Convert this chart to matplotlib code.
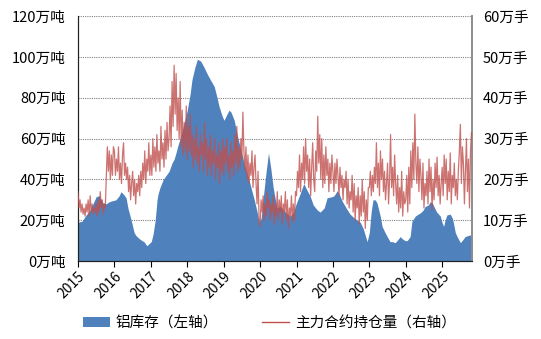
import matplotlib
matplotlib.use("Agg")
import matplotlib.pyplot as plt
import numpy as np
from matplotlib.patches import Patch
from matplotlib.lines import Line2D

plt.rcParams['font.family'] = ['Noto Sans CJK SC', 'DejaVu Sans']

# ---- data ----
years = list(range(2015, 2026))
year_labels = [str(y) for y in years]

# aluminium inventory (万吨), time as decimal year
inv_t = [2015.00, 2015.11, 2015.22, 2015.33, 2015.41, 2015.50, 2015.58, 2015.68, 2015.77, 2015.85,
         2015.93, 2016.04, 2016.13, 2016.18, 2016.26, 2016.32, 2016.37, 2016.46, 2016.54, 2016.59,
         2016.68, 2016.76, 2016.81, 2016.89, 2016.95, 2017.01, 2017.06, 2017.12, 2017.17, 2017.20,
         2017.25, 2017.34, 2017.42, 2017.50, 2017.58, 2017.64, 2017.69, 2017.75, 2017.82, 2017.91,
         2018.00, 2018.08, 2018.13, 2018.21, 2018.28, 2018.32, 2018.37, 2018.46, 2018.54, 2018.63,
         2018.74, 2018.82, 2018.87, 2018.96, 2019.01, 2019.09, 2019.15, 2019.20, 2019.29, 2019.37,
         2019.47, 2019.56, 2019.65, 2019.75, 2019.84, 2019.92, 2019.97, 2020.03, 2020.08, 2020.16,
         2020.23, 2020.29, 2020.36, 2020.46, 2020.55, 2020.69, 2020.82, 2020.91, 2020.99, 2021.10,
         2021.20, 2021.28, 2021.37, 2021.46, 2021.57, 2021.65, 2021.76, 2021.84, 2021.97, 2022.03,
         2022.12, 2022.17, 2022.25, 2022.38, 2022.47, 2022.56, 2022.67, 2022.75, 2022.83, 2022.89,
         2022.94, 2023.00, 2023.05, 2023.10, 2023.16, 2023.21, 2023.30, 2023.35, 2023.43, 2023.49,
         2023.57, 2023.63, 2023.71, 2023.76, 2023.85, 2023.90, 2023.98, 2024.04, 2024.12, 2024.17,
         2024.26, 2024.34, 2024.40, 2024.48, 2024.53, 2024.62, 2024.67, 2024.73, 2024.78, 2024.85,
         2024.95, 2025.00, 2025.04, 2025.08, 2025.13, 2025.22, 2025.28, 2025.31, 2025.36, 2025.41,
         2025.50, 2025.59, 2025.63, 2025.71, 2025.77, 2025.82]
inv_v = [19, 19.5, 22.5, 25, 28, 31.6, 32, 28.5, 28, 29,
         29.5, 30, 32, 34, 32.5, 31, 26, 20, 14, 12.5,
         11, 10, 9.5, 7.5, 8.5, 9.5, 13, 20, 30, 33,
         36, 40, 42, 44, 48, 50, 53, 57, 61, 67,
         74, 82, 89, 95, 99, 98.5, 98, 95, 92, 89,
         85.6, 80, 76, 71, 69, 72, 74, 73, 69, 62,
         54.5, 48, 43, 36, 30, 24, 19, 21, 30, 43,
         53, 46, 36, 26, 27, 24, 22, 23.6, 28, 33,
         38, 35, 32, 27.5, 25, 24, 26, 31, 31.5, 32,
         34.5, 33, 29.5, 25.5, 23, 21.5, 20, 19, 16, 12.5,
         9.5, 14, 24, 30, 30, 28.5, 22, 17, 14, 12,
         9.5, 9.5, 9, 10, 12, 11, 10, 10, 12, 19.5,
         22, 23, 23.6, 25, 26.7, 27.5, 29, 28.5, 26.5, 24,
         22, 18.7, 17, 20, 22.6, 23, 21, 18.7, 14, 12,
         9, 11, 12, 12.5, 12.8, 11.5]

# main contract open interest (万手), three readings per month from Jan 2015
oi_2015 = [17, 13, 15, 12, 14, 11.5, 13, 11, 14, 12, 15, 11, 16, 12, 14, 11.5, 13, 12,
           14, 11, 15, 12, 17, 13, 15, 11.5, 14, 13, 21, 28, 22, 27, 20, 26, 21, 28]
oi_2016 = [27, 21, 25, 22, 28, 20, 24, 19, 26, 29, 21, 24, 20, 23, 17, 21, 15, 19,
           22, 16, 20, 14, 19, 17, 21, 16, 22, 18, 24, 20, 27, 19, 25, 22, 29, 21]
oi_2017 = [26, 21, 30, 23, 28, 22, 31, 24, 27, 22, 33, 25, 29, 23, 32, 25, 34, 27,
           30, 38, 28, 44, 33, 48, 36, 46, 32, 40, 30, 44, 28, 37, 26, 34, 27, 38]
oi_2018 = [25, 33, 27, 36, 26, 31, 23, 30, 25, 33, 24, 28, 22, 31, 26, 29, 22, 34,
           25, 30, 21, 28, 23, 31, 21, 27, 24, 30, 20, 26, 23, 29, 19, 27, 22, 30]
oi_2019 = [21, 28, 24, 30, 22, 26, 20, 29, 23, 27, 21, 31, 24, 33, 22, 28, 23, 30,
           25, 36.5, 27, 22, 28, 20, 26, 19, 24, 21, 27, 18, 23, 26, 19, 14, 22, 10]
oi_2020 = [8.5, 15, 12, 16, 10, 14, 11, 17, 13, 15, 10, 14, 12, 16, 9, 14, 11, 17,
           10, 15, 12, 16, 9, 14, 12, 17, 10, 15, 8, 13, 11, 16, 9.5, 14, 10, 17]
oi_2021 = [16, 22, 18, 26, 17, 24, 20, 28, 19, 30, 22, 26, 18, 25, 16, 23, 29, 20,
           17, 27, 22, 35.5, 24, 31, 20, 30, 18, 26, 19, 28, 21, 25, 17, 24, 19, 26]
oi_2022 = [22, 17, 24, 19, 25, 21, 16, 23, 18, 21, 15, 20, 18, 22, 14, 20, 13, 17,
           15, 21, 12, 19, 10, 16, 13, 18, 9, 16, 11, 20, 12, 17, 8, 15, 10, 18]
oi_2023 = [18, 22, 16, 21, 17, 23, 19, 29, 18, 24, 16, 27, 20, 25, 17, 22, 15, 19,
           24, 14, 20, 31, 18, 23, 16, 26, 19, 14, 21, 12, 18, 13, 22, 11, 17, 14]
oi_2024 = [15, 21, 12, 23, 14, 27, 18, 29, 20, 36, 24, 19, 28, 17, 25, 21, 15, 24,
           13, 19, 16, 22, 14, 25, 17, 23, 12.5, 20, 15, 24, 18, 25.5, 16, 21, 14, 19]
oi_2025 = [23, 16, 26, 19, 25, 15, 22, 17, 26.5, 14, 21, 18, 24, 16, 20, 15, 22, 27,
           33.5, 19, 28, 24, 14, 22, 30, 17, 25, 13, 27, 31.5]

oi_years = [oi_2015, oi_2016, oi_2017, oi_2018, oi_2019, oi_2020,
            oi_2021, oi_2022, oi_2023, oi_2024, oi_2025]

left_ticks = [0, 20, 40, 60, 80, 100, 120]
right_ticks = [0, 10, 20, 30, 40, 50, 60]
label_inv = '铝库存（左轴）'
label_oi = '主力合约持仓量（右轴）'

# ---- build series ----
oi_t, oi_v = [], []
for y, vals in zip(years, oi_years):
    for i, v in enumerate(vals):
        oi_t.append(y + (i // 3) / 12 + (i % 3) / 36)
        oi_v.append(v)

BLUE = '#4F81BD'
RED = '#C0504D'

fig = plt.figure(figsize=(5.41, 3.39), dpi=100)
ax = fig.add_axes([0.1442, 0.230, 0.7283, 0.722])
ax2 = ax.twinx()

ax.set_axisbelow(True)
ax.fill_between(inv_t, 0, inv_v, color=BLUE, lw=0, zorder=2)
ax2.plot(oi_t, oi_v, color=RED, lw=0.9, alpha=0.8, zorder=3)

ax.set_xlim(2015.0, 2025.82)
ax.set_ylim(0, 120)
ax2.set_ylim(0, 60)

ax.set_yticks(left_ticks)
ax.set_yticklabels([f'{v}万吨' for v in left_ticks], fontsize=10.5)
ax2.set_yticks(right_ticks)
ax2.set_yticklabels([f'{v}万手' for v in right_ticks], fontsize=10.5)

ax.set_xticks(years)
ax.set_xticklabels(year_labels, rotation=45, ha='right', va='top',
                   rotation_mode='anchor', fontsize=10)

ax.yaxis.grid(True, color='#808080', lw=0.8, linestyle=(0, (1, 1)))
ax.tick_params(axis='y', length=0, pad=9)
ax2.tick_params(axis='y', length=0, pad=8)
ax.tick_params(axis='x', length=4, width=0.8, direction='out', pad=2, color='#000000')

for a in (ax, ax2):
    a.spines['top'].set_visible(False)
    a.spines['left'].set_color('#222222')
    a.spines['bottom'].set_color('#222222')
    a.spines['right'].set_color('#8c8c8c')
    a.spines['right'].set_linewidth(1.2)

handles = [Patch(facecolor=BLUE, edgecolor='none'),
           Line2D([], [], color=RED, lw=1.0)]
fig.legend(handles, [label_inv, label_oi], loc='center', ncol=2,
           bbox_to_anchor=(0.498, 0.047), frameon=False, fontsize=10.5,
           handlelength=1.85, handletextpad=0.4, columnspacing=3.0,
           handleheight=0.75)

fig.savefig('out.png', dpi=100)
